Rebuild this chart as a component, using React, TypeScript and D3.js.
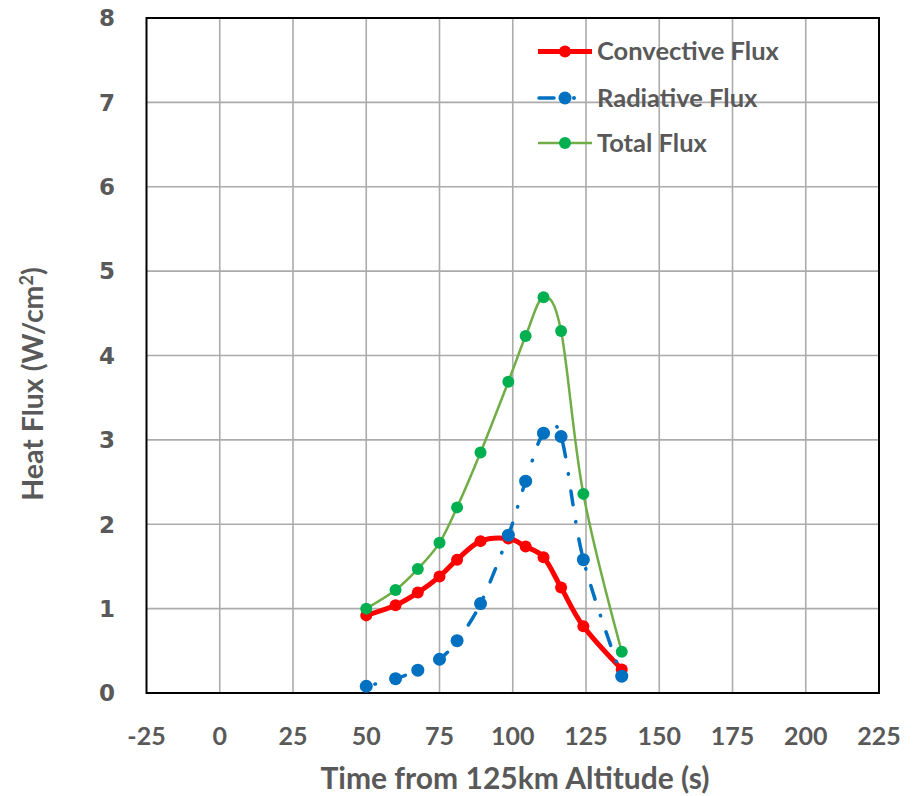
import React from "react";
import * as d3 from "d3";

const time = [50, 60, 67.6, 75, 81, 89, 98.5, 104.4, 110.5, 116.5, 124.1, 137.2];
const convective = [0.92, 1.04, 1.19, 1.38, 1.58, 1.8, 1.83, 1.735, 1.61, 1.25, 0.79, 0.28];
const radiative = [0.08, 0.17, 0.27, 0.4, 0.62, 1.06, 1.87, 2.51, 3.08, 3.04, 1.58, 0.2];
const total = [1.0, 1.22, 1.47, 1.78, 2.2, 2.85, 3.69, 4.23, 4.69, 4.29, 2.36, 0.49];

const xTicks = [-25, 0, 25, 50, 75, 100, 125, 150, 175, 200, 225];
const yTicks = [0, 1, 2, 3, 4, 5, 6, 7, 8];

const seriesNames = ["Convective Flux", "Radiative Flux", "Total Flux"];

const W = 914;
const H = 796;
const L = 146.5;
const R = 879;
const T = 18;
const B = 693;

const textGray = "#595959";
const calibriLike = "Lato, 'Open Sans', 'Liberation Sans', sans-serif";

export default function App() {
  const x = d3.scaleLinear().domain([-25, 225]).range([L, R]);
  const y = d3.scaleLinear().domain([0, 8]).range([B, T]);

  const line = d3
    .line<[number, number]>()
    .x((d) => x(d[0]))
    .y((d) => y(d[1]))
    .curve(d3.curveCardinal.tension(0));

  const pts = (vals: number[]) => time.map((t, i) => [t, vals[i]] as [number, number]);

  const series = [
    { name: seriesNames[0], vals: convective, stroke: "#FF0000", width: 5, dash: undefined as string | undefined, offset: 0, marker: "#FF0000", r: 6 },
    { name: seriesNames[1], vals: radiative, stroke: "#0070C0", width: 3.5, dash: "14 17 0.5 17", offset: 22, marker: "#0070C0", r: 6.5 },
    { name: seriesNames[2], vals: total, stroke: "#70AD47", width: 2.5, dash: undefined as string | undefined, offset: 0, marker: "#00B050", r: 6 },
  ];

  const legendY = [51.5, 98, 143];

  return (
    <svg
      width={W}
      height={H}
      viewBox={`0 0 ${W} ${H}`}
      style={{ position: "absolute", left: 0, top: 0, background: "#fff" }}
    >
      <rect x={0} y={0} width={W} height={H} fill="#fff" />
      {/* grid */}
      {xTicks.slice(1, -1).map((t) => (
        <line key={"gx" + t} x1={x(t)} x2={x(t)} y1={T} y2={B} stroke="#ABABAB" strokeWidth={1.6} />
      ))}
      {yTicks.slice(1, -1).map((t) => (
        <line key={"gy" + t} x1={L} x2={R} y1={y(t)} y2={y(t)} stroke="#ABABAB" strokeWidth={1.6} />
      ))}
      {/* frame */}
      <rect x={L} y={T} width={R - L} height={B - T} fill="none" stroke="#000" strokeWidth={2} />

      {/* y tick labels */}
      {yTicks.map((t) => (
        <text
          key={"yt" + t}
          x={115}
          y={y(t)}
          dy="0.36em"
          textAnchor="end"
          fontFamily="'DejaVu Sans', Verdana, sans-serif"
          fontWeight="bold"
          fontSize={23}
          fill={textGray}
        >
          {t}
        </text>
      ))}
      {/* x tick labels */}
      {xTicks.map((t) => (
        <text
          key={"xt" + t}
          x={x(t)}
          y={745}
          textAnchor="middle"
          fontFamily={calibriLike}
          fontWeight="bold"
          fontSize={25}
          fill={textGray}
        >
          {t}
        </text>
      ))}
      {/* axis titles */}
      <text
        x={515}
        y={789}
        textAnchor="middle"
        fontFamily={calibriLike}
        fontWeight="bold"
        fontSize={30}
        fill={textGray}
      >
        Time from 125km Altitude (s)
      </text>
      <text
        transform={`translate(43, 384) rotate(-90)`}
        textAnchor="middle"
        fontFamily={calibriLike}
        fontWeight="bold"
        fontSize={28.5}
        fill={textGray}
      >
        Heat Flux (W/cm
        <tspan dy={-10} fontSize={18}>
          2
        </tspan>
        <tspan dy={10}>)</tspan>
      </text>

      {/* series */}
      {series.map((s) => (
        <g key={s.name}>
          <path
            d={line(pts(s.vals)) || ""}
            fill="none"
            stroke={s.stroke}
            strokeWidth={s.width}
            strokeDasharray={s.dash}
            strokeDashoffset={s.offset}
            strokeLinecap="round"
            strokeLinejoin="round"
          />
          {pts(s.vals).map((p, i) => (
            <circle key={i} cx={x(p[0])} cy={y(p[1])} r={s.r} fill={s.marker} />
          ))}
        </g>
      ))}

      {/* legend */}
      {series.map((s, i) => (
        <g key={"lg" + s.name}>
          {s.dash ? (
            <>
              <line x1={539} x2={554} y1={legendY[i]} y2={legendY[i]} stroke={s.stroke} strokeWidth={s.width} strokeLinecap="round" />
              <circle cx={574} cy={legendY[i]} r={2} fill={s.stroke} />
            </>
          ) : (
            <line x1={538} x2={592} y1={legendY[i]} y2={legendY[i]} stroke={s.stroke} strokeWidth={s.width} />
          )}
          <circle cx={565} cy={legendY[i]} r={s.r} fill={s.marker} />
          <text
            x={597}
            y={legendY[i]}
            dy="0.35em"
            fontFamily={calibriLike}
            fontWeight="bold"
            fontSize={25.5}
            fill={textGray}
          >
            {s.name}
          </text>
        </g>
      ))}
    </svg>
  );
}
